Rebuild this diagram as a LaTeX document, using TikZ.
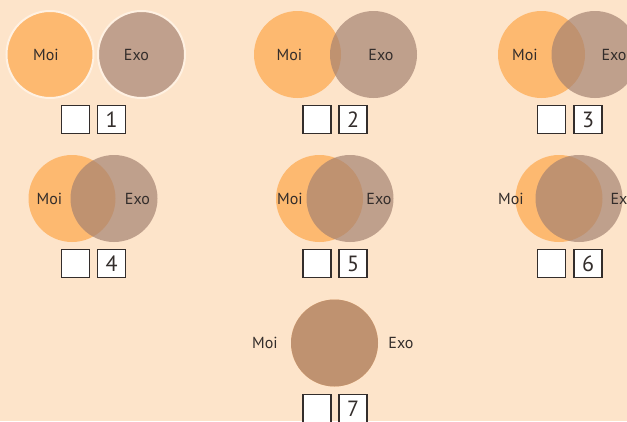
\documentclass[tikz,border=0pt]{standalone}
\usepackage{fontspec}
\setmainfont{PT Sans}
\definecolor{bg}{HTML}{FDE4CA}
\definecolor{moicol}{HTML}{FDB970}
\definecolor{exocol}{RGB}{163,128,112}
\definecolor{txt}{HTML}{332D2B}
\definecolor{rim}{HTML}{FFF1E2}
\begin{document}
\begin{tikzpicture}[x=1pt,y=-1pt,
  moi/.style={circle,fill=moicol,minimum size=87pt,inner sep=0pt},
  exo/.style={circle,fill=exocol,fill opacity=0.68,minimum size=87pt,inner sep=0pt},
  lbl/.style={text=txt,font=\fontsize{16}{16}\selectfont,inner sep=0pt},
  box/.style={draw=txt,line width=1.2pt,fill=white,minimum size=28pt,inner sep=0pt,text=txt,font=\fontsize{22}{22}\selectfont}]
\fill[bg] (0,0) rectangle (627,421);
\useasboundingbox (0,0) rectangle (627,421);
% 1
\node[moi,draw=rim,line width=2pt] (m1) at (50,54.5) {};
\node[circle,fill=exocol!68!bg,draw=rim,line width=2pt,minimum size=87pt,inner sep=0pt] (e1) at (141.5,54.5) {};
\node[lbl] (lm1) at (46,54.5) {Moi};
\node[lbl] (le1) at (136.5,54.5) {Exo};
\node[box] (a1) at (75.5,119.5) {};
\node[box] (b1) at (111.5,119.5) {1};
% 2
\node[moi] (m2) at (297.5,54.5) {};
\node[exo] (e2) at (373.5,54.5) {};
\node[lbl] (lm2) at (289.5,54.5) {Moi};
\node[lbl] (le2) at (381,54.5) {Exo};
\node[box] (a2) at (317,119.5) {};
\node[box] (b2) at (353,119.5) {2};
% 3
\node[moi] (m3) at (541.5,54.5) {};
\node[exo] (e3) at (595,54.5) {};
\node[lbl] (lm3) at (525,54.5) {Moi};
\node[lbl] (le3) at (614,54.5) {Exo};
\node[box] (a3) at (551.5,119.5) {};
\node[box] (b3) at (588,119.5) {3};
% 4
\node[moi] (m4) at (72,198.5) {};
\node[exo] (e4) at (114,198.5) {};
\node[lbl] (lm4) at (49.5,198.5) {Moi};
\node[lbl] (le4) at (137.5,198.5) {Exo};
\node[box] (a4) at (75.5,263.5) {};
\node[box] (b4) at (111.5,263.5) {4};
% 5
\node[moi] (m5) at (319.5,198.5) {};
\node[exo] (e5) at (350,198.5) {};
\node[lbl] (lm5) at (290,198.5) {Moi};
\node[lbl] (le5) at (379,198.5) {Exo};
\node[box] (a5) at (317,263.5) {};
\node[box] (b5) at (353,263.5) {5};
% 6
\node[moi] (m6) at (559,198.5) {};
\node[exo] (e6) at (579,198.5) {};
\node[lbl] (lm6) at (511,198.5) {Moi};
\node[lbl] (le6) at (623,198.5) {Exo};
\node[box] (a6) at (551.5,263.5) {};
\node[box] (b6) at (588,263.5) {6};
% 7
\node[moi] (m7) at (334.5,343) {};
\node[exo] (e7) at (334.5,343) {};
\node[lbl] (lm7) at (265,343) {Moi};
\node[lbl] (le7) at (401,343) {Exo};
\node[box] (a7) at (317,408.5) {};
\node[box] (b7) at (353,408.5) {7};
\end{tikzpicture}
\end{document}
